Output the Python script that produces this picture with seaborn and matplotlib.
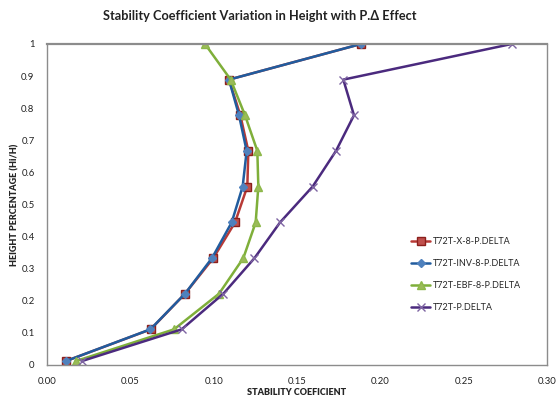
import matplotlib
matplotlib.use("Agg")
import matplotlib.pyplot as plt
import seaborn as sns
import pandas as pd

heights = [0.012, 0.111, 0.222, 0.333, 0.444, 0.556, 0.667, 0.778, 0.889, 1.0]
x_brace = [0.0112, 0.0622, 0.0828, 0.0998, 0.1128, 0.1202, 0.1208, 0.1160, 0.1092, 0.1884]
inv_brace = [0.0112, 0.0620, 0.0828, 0.0990, 0.1108, 0.1174, 0.1198, 0.1152, 0.1092, 0.1884]
ebf = [0.0172, 0.0762, 0.1032, 0.1178, 0.1252, 0.1268, 0.1262, 0.1188, 0.1102, 0.0948]
base = [0.0208, 0.0808, 0.1058, 0.1245, 0.1398, 0.1594, 0.1734, 0.1842, 0.1778, 0.2788]

series_names = ["T72T-X-8-P.DELTA", "T72T-INV-8-P.DELTA", "T72T-EBF-8-P.DELTA", "T72T-P.DELTA"]
series_values = [x_brace, inv_brace, ebf, base]

x_ticks = [0.00, 0.05, 0.10, 0.15, 0.20, 0.25, 0.30]
x_tick_labels = ["0.00", "0.05", "0.10", "0.15", "0.20", "0.25", "0.30"]
y_ticks = [0, 0.1, 0.2, 0.3, 0.4, 0.5, 0.6, 0.7, 0.8, 0.9, 1.0]
y_tick_labels = ["0", "0.1", "0.2", "0.3", "0.4", "0.5", "0.6", "0.7", "0.8", "0.9", "1"]

rows = []
for name, vals in zip(series_names, series_values):
    for h, v in zip(heights, vals):
        rows.append({"series": name, "coef": v, "height": h})
df = pd.DataFrame(rows)

sns.set_style("white")
plt.rcParams['font.family'] = ['Lato', 'DejaVu Sans']

fig = plt.figure(figsize=(5.57, 4.01), dpi=100)
ax = fig.add_axes([0.0844, 0.0898, 0.8976, 0.8005])

styles = {
    "T72T-X-8-P.DELTA": dict(color="#B83A36", marker="s", mec="#8B1F1C", mfc="#C0504D", ms=5.5),
    "T72T-INV-8-P.DELTA": dict(color="#215C9E", marker="D", mec="#4F81BD", mfc="#4F81BD", ms=4.5),
    "T72T-EBF-8-P.DELTA": dict(color="#7FAF3A", marker="^", mec="#8DB84A", mfc="#9BBB59", ms=6),
    "T72T-P.DELTA": dict(color="#4B2A7E", marker="x", mec="#7E64A2", mfc="#7E64A2", ms=6),
}

for name in series_names:
    st = styles[name]
    sub = df[df["series"] == name]
    sns.lineplot(data=sub, x="coef", y="height", sort=False, ax=ax,
                 color=st["color"], marker=st["marker"], markersize=st["ms"],
                 markeredgecolor=st["mec"], markerfacecolor=st["mfc"],
                 markeredgewidth=1.0, linewidth=1.8, label=name, estimator=None)

ax.set_xlim(0, 0.30)
ax.set_ylim(0, 1.0)
ax.set_xticks(x_ticks)
ax.set_xticklabels(x_tick_labels, fontsize=6.8, color="#222222")
ax.set_yticks(y_ticks)
ax.set_yticklabels(y_tick_labels, fontsize=6.8, color="#222222")
ax.tick_params(axis="both", length=3, width=0.8, color="#888888", direction="out", pad=6)

for sp in ax.spines.values():
    sp.set_color("#8C8C8C")
    sp.set_linewidth(1.0)
ax.spines["top"].set_linewidth(1.6)

ax.set_xlabel("STABILITY COEFICIENT", fontsize=6.5, fontweight="heavy", labelpad=1)
ax.set_ylabel("HEIGHT PERCENTAGE (Hi/H)", fontsize=6.5, fontweight="heavy", labelpad=1)

fig.suptitle("Stability Coefficient Variation in Height with P.\u0394 Effect",
             x=0.467, y=0.975, fontsize=9.2, fontweight="bold", color="#222222")

leg = ax.legend(loc="upper left", bbox_to_anchor=(0.72, 0.41), frameon=False,
                fontsize=6.5, handlelength=2.2, handletextpad=0.3, labelspacing=1.45,
                borderaxespad=0)

fig.savefig("out.png", dpi=100)
